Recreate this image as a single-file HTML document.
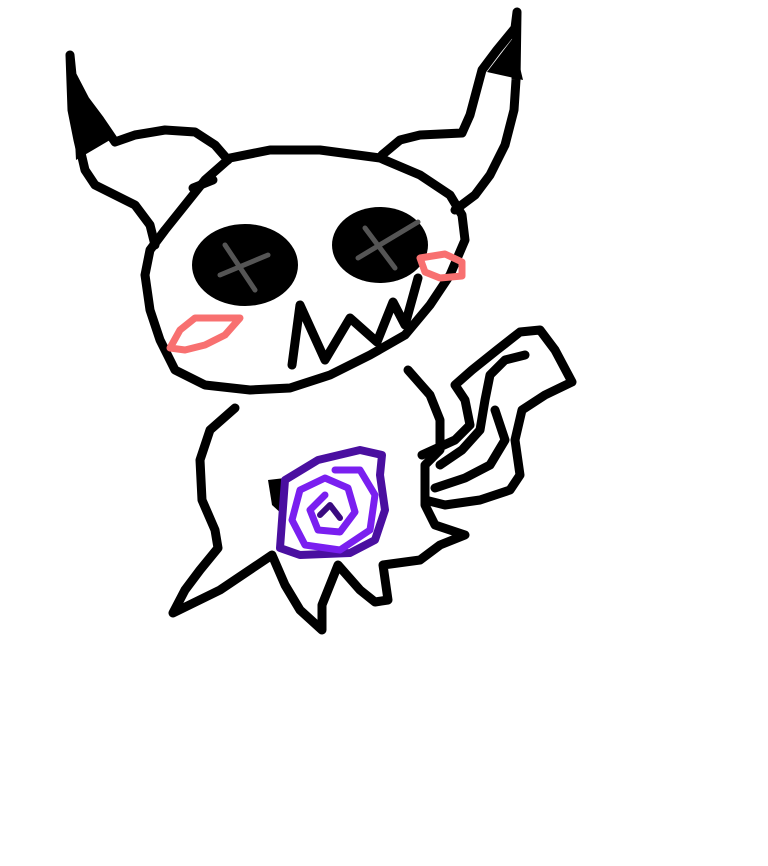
<!DOCTYPE html>
<html><head><style>html,body{margin:0;padding:0;background:#fff}svg{display:block}</style></head>
<body>
<svg width="768" height="866" viewBox="0 0 768 866" xmlns="http://www.w3.org/2000/svg">
<g fill="none" stroke="#000" stroke-width="9" stroke-linecap="round" stroke-linejoin="round">
<!-- head -->
<path d="M230,158 L270,150 L320,150 L380,158 L420,175 L450,195 L462,215 L465,240 L450,275 L430,305 L405,335 L370,355 L330,375 L290,388 L250,390 L205,385 L175,370 L160,340 L150,310 L145,275 L150,250 L165,230 L185,205 L205,180 Z"/>
<!-- left ear -->
<path d="M155,245 L150,225 L135,205 L115,195 L95,185 L85,170 L78,140 L72,110 L70,55 L72,75 L85,100 L100,120 L115,142 L135,135 L165,130 L195,132 L215,145 L228,160"/>
<!-- right ear -->
<path d="M382,155 L400,140 L420,135 L462,133 L470,115 L478,85 L482,70 L497,50 L515,28 L517,12 L516,80 L514,110 L505,145 L490,175 L475,195 L455,210"/>
<path d="M193,188 L213,180"/>
<!-- mouth -->
<path d="M292,365 L300,305 L325,360 L350,318 L377,342 L393,302 L405,325 L418,278"/>
<!-- body -->
<path d="M235,408 L210,430 L200,460 L202,500 L215,530 L218,548 L200,570 L185,590 L173,613 L220,590 L272,555 L285,585 L300,610 L322,630 L322,605 L338,565 L360,590 L375,602 L388,600 L383,565 L420,560 L440,545 L465,535 L435,525 L425,505 L425,465 L440,450 L440,420 L430,395 L408,370"/>
<!-- tail -->
<path d="M422,455 L455,440 L470,425 L465,400 L455,385 L472,370 L497,350 L520,332 L540,330 L555,350 L572,382 L545,395 L522,410 L515,440 L520,475 L510,490 L480,500 L445,505 L425,500"/>
<path d="M525,355 L505,360 L490,375 L485,400 L480,430 L462,450 L440,465"/>
<path d="M495,410 L505,440 L490,465 L465,478 L435,488"/>
</g>
<g fill="#000">
<path d="M72,80 L76,160 L110,140 Z"/>
<path d="M487,72 L513,38 L523,80 Z"/>
<ellipse cx="245" cy="265" rx="53" ry="41"/>
<ellipse cx="380" cy="245" rx="48" ry="38"/>
<path d="M268,480 L285,478 L283,515 L272,505 Z"/>
</g>
<g stroke="#555" stroke-width="5" stroke-linecap="round" fill="none">
<path d="M225,245 L255,290 M220,275 L268,255"/>
<path d="M365,228 L395,268 M358,258 L418,222"/>
</g>
<g stroke="#f87070" stroke-width="7" stroke-linecap="round" stroke-linejoin="round" fill="none">
<path d="M170,348 L180,330 L195,318 L215,318 L240,318 L225,335 L205,345 L185,350 Z"/>
<path d="M420,258 L445,254 L462,262 L462,276 L440,278 L425,272 Z"/>
</g>
<g fill="none" stroke-linecap="round" stroke-linejoin="round">
<path d="M280,548 L285,480 L318,460 L360,450 L382,455 L380,475 L385,510 L375,540 L350,553 L300,555 Z" stroke="#4a0fa0" stroke-width="8"/>
<path d="M325,495 L310,510 L318,530 L340,532 L355,512 L348,488 L325,478 L300,490 L292,520 L305,545 L340,550 L370,530 L375,495 L360,470 L335,470" stroke="#7a1ff0" stroke-width="7"/>
<path d="M320,515 L330,505 L340,518" stroke="#3a0b80" stroke-width="6"/>
</g>
</svg>
</body></html>
